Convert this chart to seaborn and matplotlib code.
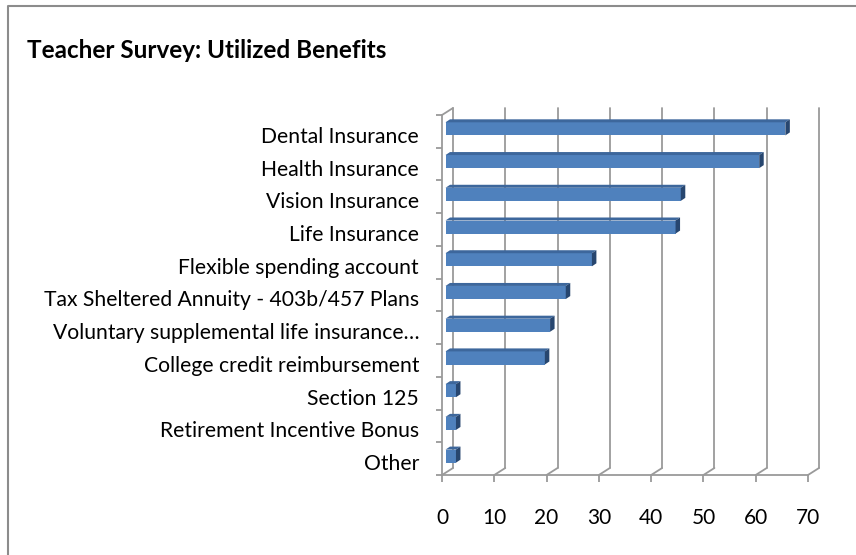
import matplotlib
matplotlib.use("Agg")
import matplotlib.pyplot as plt
import matplotlib.transforms as mtransforms
from matplotlib.lines import Line2D
from matplotlib.patches import Polygon
import seaborn as sns
import pandas as pd

categories = [
    "Dental Insurance",
    "Health Insurance",
    "Vision Insurance",
    "Life Insurance",
    "Flexible spending account",
    "Tax Sheltered Annuity - 403b/457 Plans",
    "Voluntary supplemental life insurance…",
    "College credit reimbursement",
    "Section 125",
    "Retirement Incentive Bonus",
    "Other",
]
counts = [65, 60, 45, 44, 28, 23, 20, 19, 2, 2, 2]
x_ticks = [0, 10, 20, 30, 40, 50, 60, 70]
title = "Teacher Survey: Utilized Benefits"

sns.set_theme(style="white")
plt.rcParams["font.family"] = ["Lato", "DejaVu Sans"]

W, H, DPI = 856, 555, 100
fig = plt.figure(figsize=(W / DPI, H / DPI), dpi=DPI)
fig.patch.set_facecolor("white")
ax = fig.add_axes([442 / W, 80 / H, 366 / W, 360 / H])
ax.patch.set_alpha(0)

GRID = "#9a9a9a"
FRONT = "#4f81bd"
TOP = "#3d679c"
SIDE = "#27466f"

df = pd.DataFrame({"benefit": categories, "count": counts})
sns.barplot(data=df, x="count", y="benefit", orient="h", color=FRONT,
            saturation=1, width=0.4, ax=ax, zorder=4)
ax.set_xlim(x_ticks[0], x_ticks[-1])
ax.set_ylim(len(categories) - 0.5, -0.5)
ax.set_xticks(x_ticks)
ax.set_xlabel("")
ax.set_ylabel("")

# pixel offsets for the 3-D look (display coords: +y is up)
wall = (11, 7)
bar_front = (3.5, 2.5)
bar_depth = (4.5, 3.0)

def shift(px, py):
    return mtransforms.ScaledTranslation(px / DPI, py / DPI, fig.dpi_scale_trans)

back = ax.transData + shift(*wall)
y_lo, y_hi = len(categories) - 0.5, -0.5

# back-wall gridlines
for t in x_ticks:
    ax.add_line(Line2D([t, t], [y_lo, y_hi], transform=back, color=GRID,
                       lw=1.3, clip_on=False, zorder=1))

fig.canvas.draw()
td = ax.transData

def disp(x, y):
    return td.transform((x, y))

ident = mtransforms.IdentityTransform()

# floor diagonals and top of the side wall
for t in x_ticks:
    p = disp(t, y_lo)
    fig.add_artist(Line2D([p[0], p[0] + wall[0]], [p[1], p[1] + wall[1]],
                          transform=ident, color=GRID, lw=1.3, zorder=1))
p = disp(0, y_hi)
fig.add_artist(Line2D([p[0], p[0] + wall[0]], [p[1], p[1] + wall[1]],
                      transform=ident, color=GRID, lw=1.3, zorder=1))

# bars: front face shifted into depth, plus top and end faces
for patch in ax.patches:
    patch.set_edgecolor("none")
    patch.set_transform(td + shift(*bar_front))
    x0, y0 = patch.get_x(), patch.get_y()
    x1, y1 = x0 + patch.get_width(), y0 + patch.get_height()
    a = disp(x0, y0)
    b = disp(x1, y1)
    left, right = min(a[0], b[0]) + bar_front[0], max(a[0], b[0]) + bar_front[0]
    bot, top = min(a[1], b[1]) + bar_front[1], max(a[1], b[1]) + bar_front[1]
    dx, dy = bar_depth
    top_face = Polygon([(left, top), (right, top), (right + dx, top + dy), (left + dx, top + dy)],
                       closed=True, transform=ident, facecolor=TOP, edgecolor="none", zorder=5)
    side_face = Polygon([(right, bot), (right, top), (right + dx, top + dy), (right + dx, bot + dy)],
                        closed=True, transform=ident, facecolor=SIDE, edgecolor="none", zorder=5)
    fig.add_artist(top_face)
    fig.add_artist(side_face)

# front axes
for side in ["top", "right"]:
    ax.spines[side].set_visible(False)
for side in ["left", "bottom"]:
    ax.spines[side].set_color(GRID)
    ax.spines[side].set_linewidth(1.3)
    ax.spines[side].set_zorder(2)

ax.set_yticks([i - 0.5 for i in range(len(categories) + 1)], minor=True)
ax.tick_params(axis="y", which="minor", left=True, length=4, width=1.3, color=GRID)
ax.tick_params(axis="y", which="major", left=False, length=0, pad=16.5,
               labelsize=15.2, labelcolor="black")
ax.tick_params(axis="x", which="major", bottom=True, length=5, width=1.3, color=GRID,
               pad=19, labelsize=15, labelcolor="black")
for lbl in ax.get_yticklabels():
    lbl.set_transform(lbl.get_transform() + shift(0, -3.5))

fig.text(27 / W, 1 - 58 / H, title, fontsize=17.5, fontweight="bold",
         color="black", va="baseline", ha="left")

# chart frame
fig.add_artist(Line2D([8 / W, 8 / W, 1], [0, 1 - 6 / H, 1 - 6 / H], transform=fig.transFigure,
                      color="#8c8c8c", lw=1.5))

fig.savefig("out.png", dpi=DPI, facecolor="white")
